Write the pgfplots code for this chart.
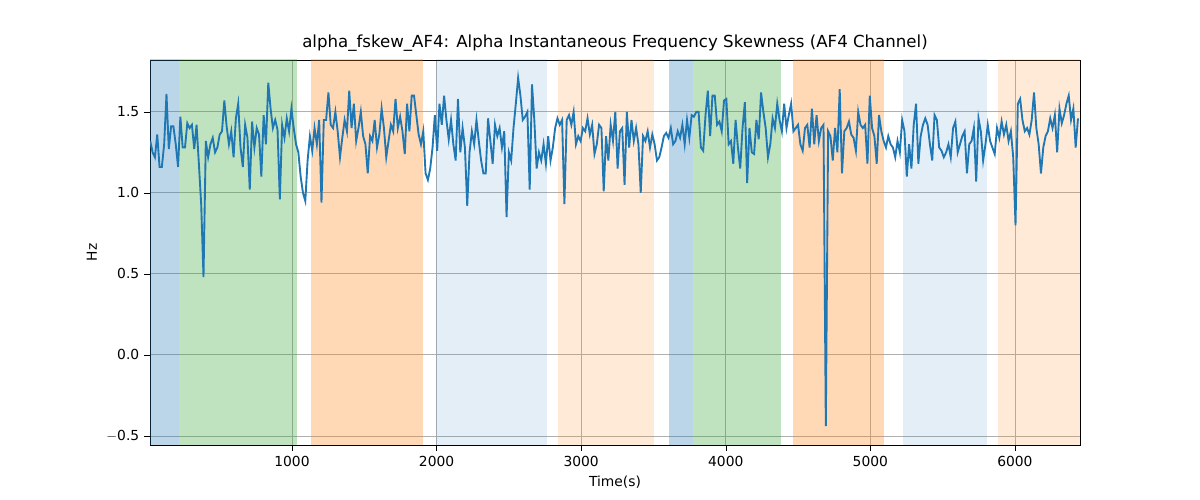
\documentclass[border=0pt]{standalone}
\usepackage{pgfplots}
\pgfplotsset{compat=1.18}
\usepackage{fontspec}
\setmainfont{DejaVu Sans}
\definecolor{cA}{HTML}{1F77B4}\definecolor{cG}{HTML}{2CA02C}\definecolor{cO}{HTML}{FF7F0E}
\begin{document}
\begin{tikzpicture}
\useasboundingbox (-1.5in,-0.55in) rectangle (10.5in,4.45in);
\begin{axis}[
  at={(0,0)}, anchor=south west, scale only axis,
  width=9.3in, height=3.85in,
  xmin=18, xmax=6450, ymin=-0.556, ymax=1.82,
  xtick={1000,2000,3000,4000,5000,6000},
  ytick={-0.5,0,0.5,1.0,1.5},
  yticklabels={$-$0.5,0.0,0.5,1.0,1.5},
  /pgf/number format/1000 sep={},
  /pgf/number format/assume math mode=true,
  tick pos=left,
  grid=major, grid style={color={rgb,255:red,176;green,176;blue,176}, line width=0.6pt},
  tick style={black}, tick align=outside,
  xlabel={Time(s)}, ylabel={Hz},
  title={alpha\_fskew\_AF4: Alpha Instantaneous Frequency Skewness (AF4 Channel)},
  title style={font=\fontsize{12}{14}\selectfont, yshift=-3pt},
  tick label style={font=\fontsize{10}{12}\selectfont},
  label style={font=\fontsize{10}{12}\selectfont},
  axis line style={black},
]
\addplot[draw=none, fill=cA, fill opacity=0.3] coordinates {(18,-1) (219,-1) (219,2) (18,2)};
\addplot[draw=none, fill=cG, fill opacity=0.3] coordinates {(219,-1) (1034,-1) (1034,2) (219,2)};
\addplot[draw=none, fill=cO, fill opacity=0.3] coordinates {(1131,-1) (1906,-1) (1906,2) (1131,2)};
\addplot[draw=none, fill=cA, fill opacity=0.12] coordinates {(1996,-1) (2764,-1) (2764,2) (1996,2)};
\addplot[draw=none, fill=cO, fill opacity=0.16] coordinates {(2840,-1) (3504,-1) (3504,2) (2840,2)};
\addplot[draw=none, fill=cA, fill opacity=0.3] coordinates {(3607,-1) (3773,-1) (3773,2) (3607,2)};
\addplot[draw=none, fill=cG, fill opacity=0.3] coordinates {(3773,-1) (4382,-1) (4382,2) (3773,2)};
\addplot[draw=none, fill=cO, fill opacity=0.3] coordinates {(4465,-1) (5094,-1) (5094,2) (4465,2)};
\addplot[draw=none, fill=cA, fill opacity=0.12] coordinates {(5226,-1) (5807,-1) (5807,2) (5226,2)};
\addplot[draw=none, fill=cO, fill opacity=0.16] coordinates {(5883,-1) (6450,-1) (6450,2) (5883,2)};
\addplot[cA, line width=1.35pt, mark=none] table[row sep=\\, x expr=20+16*\coordindex, y index=0] {
y\\
1.32\\1.25\\1.22\\1.36\\1.16\\1.16\\1.30\\1.61\\1.27\\1.41\\1.41\\1.30\\1.16\\1.47\\1.28\\1.28\\1.43\\1.40\\1.42\\1.27\\
1.42\\1.18\\0.93\\0.48\\1.32\\1.22\\1.30\\1.34\\1.25\\1.28\\1.36\\1.38\\1.57\\1.41\\1.30\\1.38\\1.22\\1.46\\1.55\\1.28\\
1.16\\1.42\\1.34\\1.02\\1.44\\1.28\\1.40\\1.36\\1.10\\1.48\\1.30\\1.68\\1.52\\1.40\\1.45\\1.39\\0.96\\1.42\\1.34\\1.46\\
1.38\\1.52\\1.40\\1.30\\1.25\\1.10\\1.00\\0.95\\1.20\\1.35\\1.26\\1.40\\1.30\\1.45\\0.94\\1.45\\1.45\\1.62\\1.42\\1.40\\
1.50\\1.38\\1.22\\1.34\\1.45\\1.38\\1.63\\1.40\\1.55\\1.32\\1.40\\1.50\\1.35\\1.30\\1.12\\1.35\\1.32\\1.45\\1.28\\1.36\\
1.52\\1.40\\1.22\\1.32\\1.42\\1.38\\1.58\\1.40\\1.47\\1.38\\1.24\\1.55\\1.38\\1.60\\1.60\\1.48\\1.36\\1.30\\1.38\\1.12\\
1.08\\1.15\\1.28\\1.48\\1.26\\1.55\\1.42\\1.60\\1.45\\1.33\\1.45\\1.30\\1.20\\1.58\\1.25\\1.40\\1.28\\0.92\\1.25\\1.38\\
1.30\\1.45\\1.32\\1.20\\1.12\\1.12\\1.46\\1.32\\1.18\\1.42\\1.35\\1.40\\1.28\\1.38\\0.85\\1.25\\1.20\\1.40\\1.55\\1.71\\
1.60\\1.45\\1.47\\1.50\\1.02\\1.67\\1.45\\1.15\\1.25\\1.20\\1.30\\1.18\\1.35\\1.20\\1.28\\1.40\\1.46\\1.42\\1.45\\0.93\\
1.45\\1.48\\1.42\\1.50\\1.30\\1.35\\1.32\\1.40\\1.38\\1.46\\1.36\\1.42\\1.24\\1.30\\1.42\\1.40\\1.01\\1.35\\1.20\\1.42\\
1.32\\1.50\\1.15\\1.38\\1.40\\1.05\\1.50\\1.28\\1.45\\1.32\\1.40\\1.30\\1.00\\1.35\\1.32\\1.38\\1.28\\1.36\\1.30\\1.20\\
1.22\\1.28\\1.35\\1.37\\1.34\\1.40\\1.30\\1.32\\1.38\\1.34\\1.42\\1.30\\1.45\\1.34\\1.48\\1.47\\1.50\\1.50\\1.28\\1.26\\
1.48\\1.63\\1.35\\1.60\\1.60\\1.42\\1.44\\1.38\\1.57\\1.58\\1.30\\1.32\\1.18\\1.45\\1.28\\1.15\\1.40\\1.56\\1.06\\1.40\\
1.25\\1.24\\1.45\\1.33\\1.62\\1.50\\1.40\\1.22\\1.30\\1.46\\1.40\\1.55\\1.45\\1.38\\1.55\\1.40\\1.48\\1.55\\1.38\\1.40\\
1.42\\1.30\\1.26\\1.40\\1.42\\1.28\\1.52\\1.30\\1.48\\1.32\\1.40\\1.42\\-0.44\\1.38\\1.35\\1.20\\1.40\\1.25\\1.64\\1.12\\
1.38\\1.40\\1.44\\1.36\\1.34\\1.26\\1.50\\1.42\\1.40\\1.42\\1.18\\1.60\\1.40\\1.35\\1.18\\1.48\\1.38\\1.32\\1.28\\1.35\\
1.30\\1.28\\1.22\\1.32\\1.25\\1.45\\1.38\\1.10\\1.30\\1.15\\1.42\\1.55\\1.18\\1.35\\1.42\\1.46\\1.42\\1.30\\1.20\\1.48\\
1.45\\1.28\\1.26\\1.22\\1.25\\1.30\\1.22\\1.40\\1.44\\1.25\\1.30\\1.35\\1.38\\1.12\\1.30\\1.32\\1.40\\1.07\\1.46\\1.38\\
1.20\\1.30\\1.42\\1.32\\1.28\\1.24\\1.40\\1.34\\1.44\\1.36\\1.42\\1.32\\1.38\\1.22\\0.80\\1.55\\1.58\\1.45\\1.38\\1.40\\
1.36\\1.45\\1.62\\1.40\\1.30\\1.12\\1.28\\1.35\\1.38\\1.46\\1.40\\1.48\\1.25\\1.52\\1.43\\1.48\\1.55\\1.60\\1.45\\1.52\\1.28\\1.46\\
};
\end{axis}
\end{tikzpicture}
\end{document}
